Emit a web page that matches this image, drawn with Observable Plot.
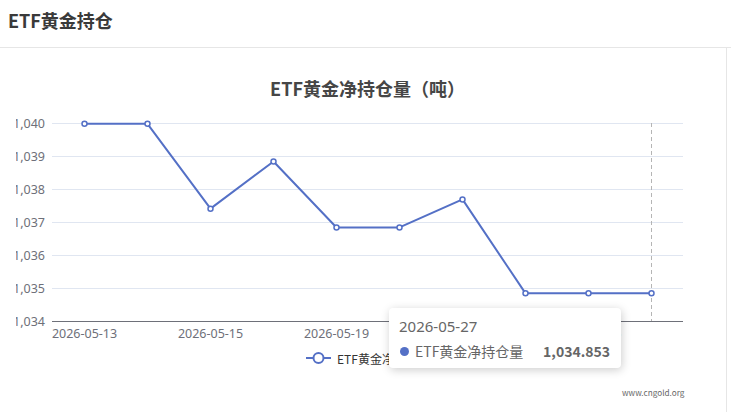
<!DOCTYPE html>
<html><head><meta charset="utf-8">
<script src="https://cdn.jsdelivr.net/npm/d3@7"></script>
<script src="https://cdn.jsdelivr.net/npm/@observablehq/plot@0.6"></script>
<style>
body{margin:0;width:731px;height:412px;position:relative;overflow:hidden;background:#fff;font-family:"Noto Sans CJK SC","Noto Sans",sans-serif;}
#hdr{position:absolute;left:8px;top:6px;font-size:18px;font-weight:bold;color:#3a3a3a;line-height:28px;}
#hline{position:absolute;left:0;top:47px;width:731px;height:1px;background:#e6e6e6;}
#vline{position:absolute;left:726px;top:48px;width:1px;height:364px;background:#e6e6e6;}
#title{position:absolute;left:0;width:735px;text-align:center;top:75px;font-size:18px;font-weight:bold;color:#464646;line-height:26px;}
#chart{position:absolute;left:16px;top:100px;}
#legend{position:absolute;left:306px;top:349px;height:18px;display:flex;align-items:center;font-size:12px;color:#333;}
#legend svg{margin-right:6px;}
#tip{position:absolute;left:389px;top:308px;width:232px;height:60px;background:#fff;border-radius:4px;box-shadow:1px 2px 10px rgba(0,0,0,0.2);}
#tipdate{position:absolute;left:10px;top:7px;font-family:"Noto Sans",sans-serif;font-size:15px;color:#666;line-height:22px;}
#tipdot{position:absolute;left:11px;top:39px;width:9px;height:9px;border-radius:50%;background:#5470c6;}
#tipname{position:absolute;left:26px;top:33px;font-size:14px;color:#666;line-height:20px;}
#tipval{position:absolute;right:11px;top:33px;font-size:14px;font-weight:bold;color:#666;line-height:20px;}
#wm{position:absolute;left:622px;top:386px;font-size:8.2px;color:#666;}
</style></head><body>
<div id="hdr">ETF黄金持仓</div>
<div id="hline"></div>
<div id="vline"></div>
<div id="title">ETF黄金净持仓量（吨）</div>
<div id="chart"></div>
<div id="legend"></div>
<div id="tip"><div id="tipdate"></div><div id="tipdot"></div><div id="tipname"></div><div id="tipval"></div></div>
<div id="wm">www.cngold.org</div>
<script>
const seriesName = "ETF黄金净持仓量";
const dates = ["2026-05-13","2026-05-14","2026-05-15","2026-05-18","2026-05-19","2026-05-20","2026-05-21","2026-05-22","2026-05-26","2026-05-27"];
const values = [1039.99, 1039.99, 1037.42, 1038.85, 1036.85, 1036.85, 1037.70, 1034.853, 1034.853, 1034.853];
const yTicks = [1034, 1035, 1036, 1037, 1038, 1039, 1040];
const xTickLabels = dates.filter((d, i) => i % 2 === 0);

const data = dates.map((d, i) => ({date: d, value: values[i]}));
const blue = "#5470C6";
const axisGray = "#6E7079";

const chart = Plot.plot({
  width: 701, height: 250,
  marginLeft: 36, marginRight: 34, marginTop: 23, marginBottom: 29,
  style: {fontFamily: '"Noto Sans",sans-serif', fontSize: "12.5px", background: "transparent"},
  x: {type: "point", domain: dates, padding: 0.5},
  y: {domain: [yTicks[0], yTicks[yTicks.length - 1]]},
  marks: [
    Plot.gridY(yTicks, {stroke: "#E0E6F1", strokeOpacity: 1}),
    Plot.ruleY([yTicks[0]], {stroke: axisGray}),
    Plot.axisY({ticks: yTicks, tickSize: 0, tickPadding: 7.5, tickFormat: d3.format(","), color: axisGray, label: null}),
    Plot.axisX({ticks: xTickLabels, tickSize: 0, tickPadding: 8, color: axisGray, label: null}),
    Plot.ruleX([dates[dates.length - 1]], {y1: yTicks[yTicks.length - 1], y2: yTicks[0], stroke: "#B5B5B5", strokeDasharray: "4,3"}),
    Plot.line(data, {x: "date", y: "value", stroke: blue, strokeWidth: 2}),
    Plot.dot(data, {x: "date", y: "value", r: 2.5, fill: "white", stroke: blue, strokeWidth: 1.5})
  ]
});
document.getElementById("chart").appendChild(chart);

document.getElementById("legend").innerHTML =
  `<svg width="25" height="14"><line x1="0" y1="7" x2="25" y2="7" stroke="${blue}" stroke-width="2"/><circle cx="12.5" cy="7" r="5" fill="white" stroke="${blue}" stroke-width="2"/></svg><span>${seriesName}</span>`;

const last = data[data.length - 1];
document.getElementById("tipdate").textContent = last.date;
document.getElementById("tipname").textContent = seriesName;
document.getElementById("tipval").textContent = d3.format(",.3f")(last.value);
</script>
</body></html>
